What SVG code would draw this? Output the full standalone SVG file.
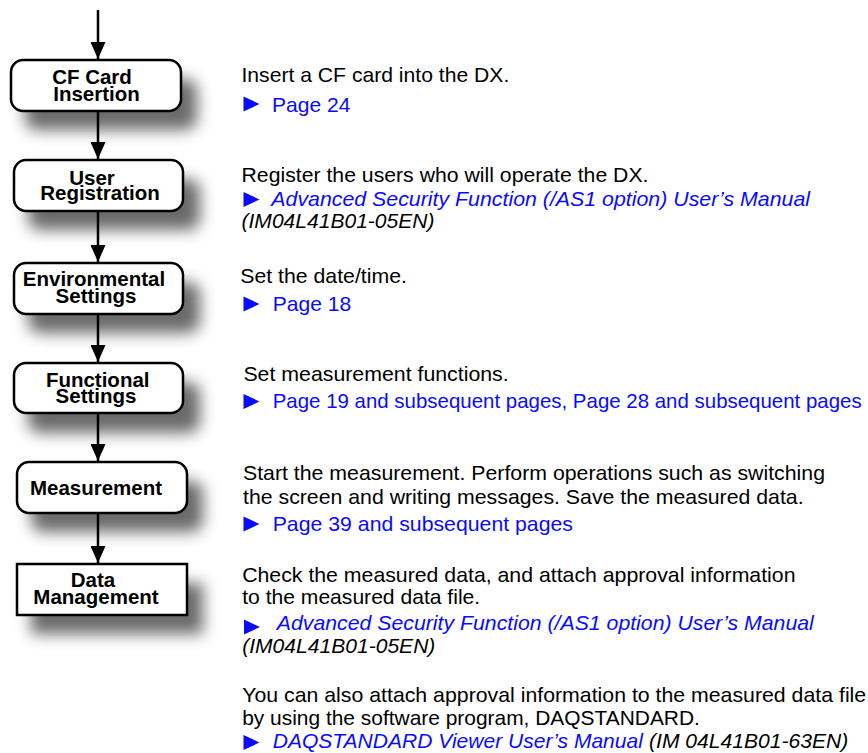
<svg xmlns="http://www.w3.org/2000/svg" width="868" height="753" viewBox="0 0 868 753">
<style>
.box{fill:#fff;stroke:#000;stroke-width:2.5}
.lbl{font-family:"Liberation Sans",Arial,sans-serif;font-weight:bold;font-size:20.5px;fill:#000;text-anchor:middle}
.t{font-family:"Liberation Sans",Arial,sans-serif;font-size:20.6px;fill:#000}
.lk{fill:#0a0aff}
.it{font-style:italic}
.conn{stroke:#000;stroke-width:2.5;fill:none}
.tri{fill:#0a0aff}
.sh{fill:#5a5a5a;filter:url(#blur)}
</style>
<defs>
<filter id="blur" x="-50%" y="-80%" width="200%" height="260%"><feGaussianBlur stdDeviation="7.5"/></filter>
<marker id="ah" viewBox="0 0 17 15" refX="17" refY="7.5" markerWidth="17" markerHeight="15" markerUnits="userSpaceOnUse" orient="auto"><path d="M0,0 L17,7.5 L0,15 Z" fill="#000"/></marker>
</defs>
<rect width="868" height="753" fill="#fff"/>
<g id="shadows" opacity="0.9">
<rect class="sh" x="25" y="79" width="172" height="51" rx="12"/>
<rect class="sh" x="28" y="179" width="172" height="51" rx="12"/>
<rect class="sh" x="28" y="282" width="172" height="51" rx="12"/>
<rect class="sh" x="28" y="382" width="172" height="51" rx="12"/>
<rect class="sh" x="31" y="481" width="172" height="51" rx="12"/>
<rect class="sh" x="31" y="583" width="172" height="51"/>
</g>
<g id="connectors">
<line class="conn" x1="98" y1="10" x2="98" y2="59" marker-end="url(#ah)"/>
<line class="conn" x1="98" y1="111" x2="98" y2="159" marker-end="url(#ah)"/>
<line class="conn" x1="98" y1="211" x2="98" y2="262" marker-end="url(#ah)"/>
<line class="conn" x1="98" y1="314" x2="98" y2="362" marker-end="url(#ah)"/>
<line class="conn" x1="98" y1="413" x2="98" y2="461" marker-end="url(#ah)"/>
<line class="conn" x1="98" y1="513" x2="98" y2="563" marker-end="url(#ah)"/>
</g>
<g id="n1">
<rect class="box" x="11" y="60" width="170" height="51" rx="12"/>
<text class="lbl" x="92" y="83.5">CF Card</text>
<text class="lbl" x="96.5" y="101">Insertion</text>
</g>
<g id="n2">
<rect class="box" x="14" y="160" width="169" height="51" rx="12"/>
<text class="lbl" x="92" y="184.5">User</text>
<text class="lbl" x="100" y="200">Registration</text>
</g>
<g id="n3">
<rect class="box" x="14" y="263" width="169" height="51" rx="12"/>
<text class="lbl" x="94" y="286">Environmental</text>
<text class="lbl" x="96" y="303">Settings</text>
</g>
<g id="n4">
<rect class="box" x="14" y="363" width="169" height="50" rx="12"/>
<text class="lbl" x="97.7" y="386.7">Functional</text>
<text class="lbl" x="96" y="403">Settings</text>
</g>
<g id="n5">
<rect class="box" x="17" y="462" width="170" height="51" rx="12"/>
<text class="lbl" x="96" y="495">Measurement</text>
</g>
<g id="n6">
<rect class="box" x="17" y="564" width="170" height="51"/>
<text class="lbl" x="93" y="586.7">Data</text>
<text class="lbl" x="96" y="603.5">Management</text>
</g>
<g id="descriptions">
<text class="t" x="241.5" y="81.7" textLength="267.8" lengthAdjust="spacingAndGlyphs">Insert a CF card into the DX.</text>
<path class="tri" d="M243.5,96.5 L259.5,104 L243.5,111.5 Z"/>
<text class="t lk" x="272" y="111.7" textLength="78.5" lengthAdjust="spacingAndGlyphs">Page 24</text>

<text class="t" x="241.5" y="181.7" textLength="407" lengthAdjust="spacingAndGlyphs">Register the users who will operate the DX.</text>
<path class="tri" d="M243.5,192 L259.5,199.5 L243.5,207 Z"/>
<text class="t lk it" x="271.3" y="205.7" textLength="538.7" lengthAdjust="spacingAndGlyphs">Advanced Security Function (/AS1 option) User’s Manual</text>
<text class="t it" x="241.5" y="228.3" textLength="193" lengthAdjust="spacingAndGlyphs">(IM04L41B01-05EN)</text>

<text class="t" x="240.2" y="282.7" textLength="166.8" lengthAdjust="spacingAndGlyphs">Set the date/time.</text>
<path class="tri" d="M243.5,296.5 L259.5,304 L243.5,311.5 Z"/>
<text class="t lk" x="272.7" y="310.7" textLength="78.5" lengthAdjust="spacingAndGlyphs">Page 18</text>

<text class="t" x="243.4" y="380.7" textLength="265.3" lengthAdjust="spacingAndGlyphs">Set measurement functions.</text>
<path class="tri" d="M243.5,394 L259.5,401.5 L243.5,409 Z"/>
<text class="t lk" x="272.7" y="408.3" textLength="589" lengthAdjust="spacingAndGlyphs">Page 19 and subsequent pages, Page 28 and subsequent pages</text>

<text class="t" x="243" y="480" textLength="582" lengthAdjust="spacingAndGlyphs">Start the measurement. Perform operations such as switching</text>
<text class="t" x="243" y="504" textLength="560.6" lengthAdjust="spacingAndGlyphs">the screen and writing messages. Save the measured data.</text>
<path class="tri" d="M243.5,516.5 L259.5,524 L243.5,531.5 Z"/>
<text class="t lk" x="272.7" y="530.7" textLength="300.3" lengthAdjust="spacingAndGlyphs">Page 39 and subsequent pages</text>

<text class="t" x="242.2" y="581.7" textLength="553.3" lengthAdjust="spacingAndGlyphs">Check the measured data, and attach approval information</text>
<text class="t" x="242.2" y="604" textLength="238" lengthAdjust="spacingAndGlyphs">to the measured data file.</text>
<path class="tri" d="M244,619.5 L260,627 L244,634.5 Z"/>
<text class="t lk it" x="276.8" y="630" textLength="537" lengthAdjust="spacingAndGlyphs">Advanced Security Function (/AS1 option) User’s Manual</text>
<text class="t it" x="242.2" y="653.3" textLength="193.2" lengthAdjust="spacingAndGlyphs">(IM04L41B01-05EN)</text>

<text class="t" x="242.2" y="701.7" textLength="624" lengthAdjust="spacingAndGlyphs">You can also attach approval information to the measured data file</text>
<text class="t" x="242.2" y="725" textLength="457.7" lengthAdjust="spacingAndGlyphs">by using the software program, DAQSTANDARD.</text>
<path class="tri" d="M243.5,735 L259.5,742.5 L243.5,750 Z"/>
<text class="t lk it" x="272.7" y="748.3" textLength="370.2" lengthAdjust="spacingAndGlyphs">DAQSTANDARD Viewer User’s Manual</text>
<text class="t it" x="649" y="748.3" textLength="199.4" lengthAdjust="spacingAndGlyphs">(IM 04L41B01-63EN)</text>
</g>
</svg>
